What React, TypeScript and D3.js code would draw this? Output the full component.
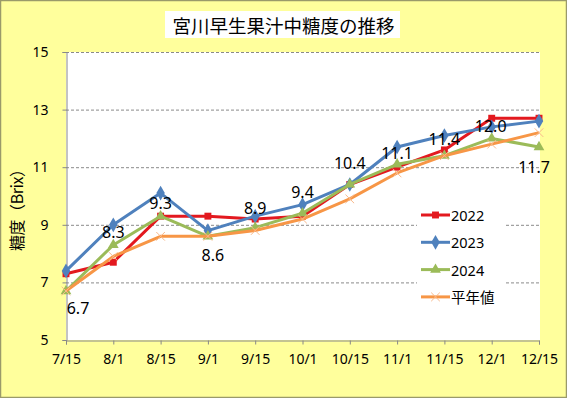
import React, { useEffect, useRef } from "react";
import * as d3 from "d3";

// chart values
const dates = ["7/15", "8/1", "8/15", "9/1", "9/15", "10/1", "10/15", "11/1", "11/15", "12/1", "12/15"];
const y2022 = [7.3, 7.7, 9.3, 9.3, 9.2, 9.3, 10.4, 11.0, 11.6, 12.7, 12.7];
const y2023 = [7.4, 9.0, 10.1, 8.8, 9.3, 9.7, 10.4, 11.7, 12.1, 12.4, 12.6];
const y2024 = [6.7, 8.3, 9.3, 8.6, 8.9, 9.4, 10.4, 11.1, 11.4, 12.0, 11.7];
const normal = [6.7, 7.9, 8.6, 8.6, 8.8, 9.2, 9.9, 10.8, 11.4, 11.8, 12.2];
const yTicks = [5, 7, 9, 11, 13, 15];

// where the 2024 labels were dragged to (px offset from the point)
const labelOffsets = [[12, 17], [0, -13], [0, -13], [5, 19], [0, -20], [0, -21], [0, -21], [0, -11], [0, -17], [-1, -12], [-5, 20]];

const W = 567, H = 398;
const left = 66, right = 539, top = 52, bottom = 340;
const FONT = "'Noto Sans', 'Noto Sans CJK JP', sans-serif";

function App() {
    const svgRef = useRef(null);

    useEffect(() => {
        const svg = d3.select(svgRef.current);
        svg.selectAll("*").remove();

        const series = [
            { name: "2022", values: y2022, color: "#E3191F", symbol: d3.symbolSquare, size: 48 },
            { name: "2023", values: y2023, color: "#4F81BD", symbol: d3.symbolDiamond, size: 62 },
            { name: "2024", values: y2024, color: "#9BBB59", symbol: d3.symbolTriangle, size: 50 },
            { name: "平年値", values: normal, color: "#F79646", symbol: d3.symbolTimes, size: 50 },
        ];

        const x = d3.scalePoint().domain(dates).range([left, right]);
        const y = d3.scaleLinear().domain([5, 15]).range([bottom, top]);

        // background
        svg.append("rect").attr("x", 0.5).attr("y", 0.5).attr("width", W - 1).attr("height", H - 1)
            .attr("fill", "#FFFF9C").attr("stroke", "#9A9A6A").attr("stroke-width", 1.5);
        svg.append("rect").attr("x", left).attr("y", top).attr("width", right - left + 1).attr("height", bottom - top)
            .attr("fill", "#fff");

        // gridlines
        svg.append("g").selectAll("line").data(yTicks.filter(t => t > 5)).join("line")
            .attr("x1", left).attr("x2", right)
            .attr("y1", d => y(d) + 0.5).attr("y2", d => y(d) + 0.5)
            .attr("stroke", "#8a8a8a").attr("stroke-dasharray", "3,2").attr("stroke-width", 1);

        // y axis
        const yAxis = d3.axisLeft(y).tickValues(yTicks).tickSize(4).tickPadding(14);
        const gy = svg.append("g").attr("transform", `translate(${left + 0.5},0)`).call(yAxis);
        gy.select(".domain").attr("stroke", "#888");
        gy.selectAll(".tick line").attr("stroke", "#888");
        gy.selectAll("text").attr("font-family", FONT).attr("font-size", 14).attr("fill", "#000");

        // x axis
        const xAxis = d3.axisBottom(x).tickSize(4).tickPadding(10);
        const gx = svg.append("g").attr("transform", `translate(0,${bottom + 0.5})`).call(xAxis);
        gx.select(".domain").attr("stroke", "#888");
        gx.selectAll(".tick line").attr("stroke", "#888");
        gx.selectAll("text").attr("font-family", FONT).attr("font-size", 14).attr("fill", "#000");

        // legend box (drawn before lines so it hides the gridlines only)
        svg.append("rect").attr("x", 417).attr("y", 202).attr("width", 88).attr("height", 108).attr("fill", "#fff");

        const line = d3.line().x((d, i) => x(dates[i])).y(d => y(d));

        series.forEach(s => {
            const g = svg.append("g");
            g.append("path").datum(s.values).attr("d", line)
                .attr("fill", "none").attr("stroke", s.color).attr("stroke-width", 3)
                .attr("stroke-linejoin", "round");
            g.selectAll("path.m").data(s.values).join("path").attr("class", "m")
                .attr("transform", (d, i) => `translate(${x(dates[i])},${y(d)})`)
                .attr("d", d3.symbol(s.symbol, s.size))
                .attr("fill", s.symbol === d3.symbolTimes ? "none" : s.color)
                .attr("stroke", s.symbol === d3.symbolTimes ? "#F9B98A" : "none")
                .attr("stroke-width", 1);
        });

        // data labels for 2024
        svg.append("g").selectAll("text").data(y2024).join("text")
            .attr("x", (d, i) => x(dates[i]) + labelOffsets[i][0])
            .attr("y", (d, i) => y(d) + labelOffsets[i][1])
            .attr("text-anchor", "middle").attr("dominant-baseline", "central")
            .attr("font-family", FONT).attr("font-size", 16).attr("fill", "#000")
            .text(d => d.toFixed(1));

        // legend entries
        const lg = svg.append("g").selectAll("g").data(series).join("g")
            .attr("transform", (d, i) => `translate(421,${215 + i * 27.3})`);
        lg.append("line").attr("x1", 0).attr("x2", 29).attr("y1", 0).attr("y2", 0)
            .attr("stroke", d => d.color).attr("stroke-width", 3);
        lg.append("path").attr("transform", "translate(14.5,0)")
            .attr("d", d => d3.symbol(d.symbol, d.size)())
            .attr("fill", d => d.symbol === d3.symbolTimes ? "none" : d.color)
            .attr("stroke", d => d.symbol === d3.symbolTimes ? "#F9B98A" : "none");
        lg.append("text").attr("x", 30).attr("dominant-baseline", "central")
            .attr("font-family", FONT).attr("font-size", 14.5).attr("fill", "#000")
            .text(d => d.name);

        // y axis title
        svg.append("text").attr("transform", "translate(16,206) rotate(-90)")
            .attr("text-anchor", "middle").attr("dominant-baseline", "central")
            .attr("font-family", "'Noto Sans CJK JP', sans-serif").attr("font-size", 16).attr("fill", "#000")
            .attr("textLength", 90).attr("lengthAdjust", "spacing")
            .text("糖度（Brix）");

        // title
        svg.append("rect").attr("x", 165).attr("y", 11).attr("width", 235).attr("height", 27).attr("fill", "#fff");
        svg.append("text").attr("x", 283.5).attr("y", 24.5)
            .attr("text-anchor", "middle").attr("dominant-baseline", "central")
            .attr("font-family", "'Noto Sans CJK JP', sans-serif").attr("font-size", 18.5).attr("fill", "#000")
            .text("宮川早生果汁中糖度の推移");
    }, []);

    return (
        <svg ref={svgRef} width={W} height={H}
            style={{ position: "absolute", left: 0, top: 0, display: "block" }} />
    );
}

export default App;
